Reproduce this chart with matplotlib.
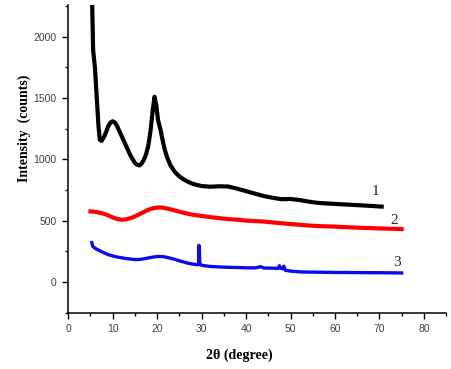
import matplotlib
matplotlib.use('Agg')
import matplotlib.pyplot as plt
from matplotlib.ticker import MultipleLocator

# Curve 1 (black)
x1 = [5.3, 5.6, 6.0, 6.4, 6.8, 7.1, 7.5, 8.0, 8.5, 9.0, 9.5, 10.0, 10.5, 11.0, 11.5,
      12.0, 12.5, 13.0, 13.5, 14.0, 14.5, 15.0, 15.5, 16.0, 16.5, 17.0, 17.5, 18.0,
      18.5, 19.0, 19.4, 19.8, 20.2, 20.7, 21.2, 21.7, 22.2, 23.0, 24.0, 25.0, 26.0,
      27.0, 28.0, 29.0, 30.0, 32.0, 34.0, 36.0, 38.0, 40.0, 42.0, 44.0, 46.0, 48.0,
      50.0, 52.0, 54.0, 56.0, 58.0, 60.0, 62.0, 64.0, 66.0, 68.0, 70.5]
y1 = [2400, 1890, 1750, 1510, 1270, 1160, 1150, 1180, 1220, 1270, 1300, 1310, 1300, 1270, 1230,
      1190, 1150, 1110, 1070, 1030, 1000, 970, 955, 950, 965, 995, 1040, 1110,
      1230, 1400, 1510, 1440, 1320, 1250, 1160, 1080, 1020, 950, 895, 860, 835,
      815, 800, 790, 782, 776, 780, 778, 760, 740, 720, 700, 686, 674,
      676, 668, 655, 645, 640, 636, 632, 628, 624, 620, 614]

# Curve 2 (red)
x2 = [5.0, 6.0, 7.0, 8.0, 9.0, 10.0, 11.0, 12.0, 13.0, 14.0, 15.0, 16.0, 17.0, 18.0,
      19.0, 20.0, 21.0, 22.0, 23.0, 24.0, 25.0, 26.0, 27.0, 28.0, 30.0, 32.0, 34.0,
      36.0, 38.0, 40.0, 42.0, 44.0, 46.0, 48.0, 50.0, 52.0, 54.0, 56.0, 58.0, 60.0,
      62.0, 64.0, 66.0, 68.0, 70.0, 72.0, 75.0]
y2 = [575, 572, 565, 556, 542, 526, 513, 507, 510, 520, 534, 552, 570, 588,
      600, 606, 607, 600, 592, 583, 573, 563, 555, 548, 538, 528, 520,
      512, 507, 500, 496, 492, 485, 478, 472, 466, 460, 456, 453, 451,
      447, 444, 441, 439, 436, 434, 431]

# Curve 3 (blue)
x3 = [5.3, 5.5, 6.0, 7.0, 8.0, 9.0, 10.0, 11.0, 12.0, 13.0, 14.0, 15.0, 16.0, 17.0,
      18.0, 19.0, 20.0, 21.0, 22.0, 23.0, 24.0, 25.0, 26.0, 27.0, 28.0, 29.0, 29.3,
      29.4, 29.5, 29.6, 30.0, 31.0, 32.0, 34.0, 36.0, 38.0, 40.0, 42.0, 43.3, 44.0,
      46.0, 47.2, 47.5, 47.8, 48.2, 48.5, 48.8, 50.0, 52.0, 54.0, 56.0, 58.0, 60.0,
      62.0, 64.0, 66.0, 68.0, 70.0, 72.0, 75.0]
y3 = [320, 290, 275, 255, 238, 222, 212, 203, 197, 190, 186, 182, 183, 188,
      195, 202, 207, 207, 202, 193, 183, 172, 162, 152, 145, 140, 145,
      298, 260, 140, 136, 130, 126, 122, 119, 117, 115, 114, 124, 113,
      112, 110, 132, 110, 108, 128, 95, 88, 82, 80, 79, 78, 77,
      77, 76, 76, 75, 75, 74, 73]

curve_labels = ['1', '2', '3']
label_pos = [(69.1, 738), (73.3, 500), (74.0, 160)]

fig = plt.figure(figsize=(4.52, 3.69), dpi=100)
ax = fig.add_axes([0.151, 0.153, 0.836, 0.834])

ax.plot(x1, y1, color='black', lw=3.0)
ax.plot(x2, y2, color='#ff0000', lw=3.0)
ax.plot(x3, y3, color='#0a0aee', lw=2.4)

for lab, (lx, ly) in zip(curve_labels, label_pos):
    ax.text(lx, ly, lab, family='Liberation Serif', fontsize=11,
            color='#1a1f3a', ha='center', va='center')

ax.set_xlim(0, 85)
ax.set_ylim(-250, 2260)
ax.xaxis.set_major_locator(MultipleLocator(10))
ax.xaxis.set_minor_locator(MultipleLocator(5))
ax.yaxis.set_major_locator(MultipleLocator(500))
ax.yaxis.set_minor_locator(MultipleLocator(250))

for s in ['top', 'right']:
    ax.spines[s].set_visible(False)
for s in ['left', 'bottom']:
    ax.spines[s].set_linewidth(1.1)

ax.tick_params(which='major', direction='out', length=4.5, width=1.0,
               labelsize=7.5, labelcolor='#404040', pad=4)
ax.tick_params(which='minor', direction='out', length=2.5, width=1.0)
for t in ax.get_xticklabels() + ax.get_yticklabels():
    t.set_family('Liberation Sans')

fig.text(239 / 452, 1 - 355 / 369, '2θ (degree)', family='Liberation Serif',
         fontweight='bold', fontsize=10, ha='center', va='center')
fig.text(24 / 452, 1 - 128 / 369, 'Intensity  (counts)', family='Liberation Serif',
         fontweight='bold', fontsize=10, ha='center', va='center', rotation=90)

plt.savefig('out.png', dpi=100)
